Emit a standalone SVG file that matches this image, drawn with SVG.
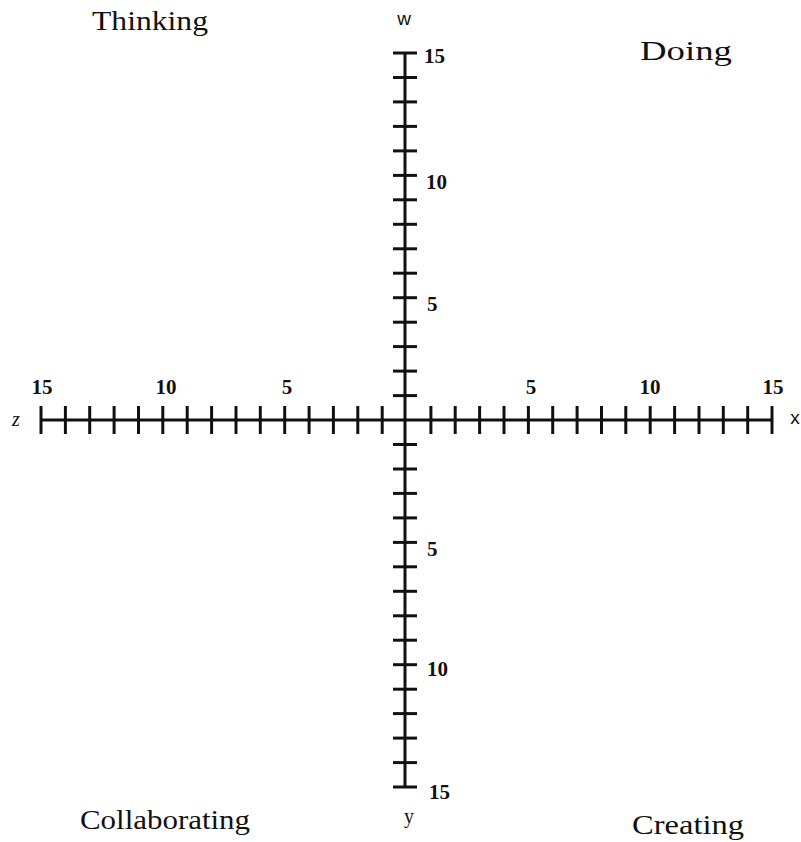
<svg xmlns="http://www.w3.org/2000/svg" width="801" height="842" viewBox="0 0 801 842">
<style>
.axis{stroke:#111;stroke-width:3;fill:none}
.tick{stroke:#111;stroke-width:3;fill:none}
.num{font-family:"Liberation Serif",serif;font-weight:bold;font-size:21px;fill:#111}
.quad{font-family:"Liberation Serif",serif;font-size:28px;fill:#111}
.ax{font-family:"Liberation Sans",sans-serif;font-size:19px;fill:#111}
.axs{font-family:"Liberation Serif",serif;font-size:20px;fill:#111}
</style>
<rect width="801" height="842" fill="#fff"/>
<g id="connectors">
<line class="axis" x1="405" y1="53" x2="405" y2="787"/>
<line class="axis" x1="41" y1="420" x2="772" y2="420"/>
<g id="vticks" class="tick">
<line x1="393" y1="53" x2="417" y2="53"/>
<line x1="393" y1="77.5" x2="417" y2="77.5"/>
<line x1="393" y1="101.9" x2="417" y2="101.9"/>
<line x1="393" y1="126.4" x2="417" y2="126.4"/>
<line x1="393" y1="150.9" x2="417" y2="150.9"/>
<line x1="393" y1="175.4" x2="417" y2="175.4"/>
<line x1="393" y1="199.8" x2="417" y2="199.8"/>
<line x1="393" y1="224.3" x2="417" y2="224.3"/>
<line x1="393" y1="248.8" x2="417" y2="248.8"/>
<line x1="393" y1="273.2" x2="417" y2="273.2"/>
<line x1="393" y1="297.7" x2="417" y2="297.7"/>
<line x1="393" y1="322.2" x2="417" y2="322.2"/>
<line x1="393" y1="346.6" x2="417" y2="346.6"/>
<line x1="393" y1="371.1" x2="417" y2="371.1"/>
<line x1="393" y1="395.6" x2="417" y2="395.6"/>
<line x1="393" y1="444.5" x2="417" y2="444.5"/>
<line x1="393" y1="469" x2="417" y2="469"/>
<line x1="393" y1="493.4" x2="417" y2="493.4"/>
<line x1="393" y1="517.9" x2="417" y2="517.9"/>
<line x1="393" y1="542.4" x2="417" y2="542.4"/>
<line x1="393" y1="566.8" x2="417" y2="566.8"/>
<line x1="393" y1="591.3" x2="417" y2="591.3"/>
<line x1="393" y1="615.8" x2="417" y2="615.8"/>
<line x1="393" y1="640.2" x2="417" y2="640.2"/>
<line x1="393" y1="664.7" x2="417" y2="664.7"/>
<line x1="393" y1="689.2" x2="417" y2="689.2"/>
<line x1="393" y1="713.6" x2="417" y2="713.6"/>
<line x1="393" y1="738.1" x2="417" y2="738.1"/>
<line x1="393" y1="762.6" x2="417" y2="762.6"/>
<line x1="393" y1="787" x2="417" y2="787"/>
</g>
<g id="hticks" class="tick">
<line x1="41" y1="406" x2="41" y2="434"/>
<line x1="65.4" y1="406" x2="65.4" y2="434"/>
<line x1="89.7" y1="406" x2="89.7" y2="434"/>
<line x1="114.1" y1="406" x2="114.1" y2="434"/>
<line x1="138.5" y1="406" x2="138.5" y2="434"/>
<line x1="162.8" y1="406" x2="162.8" y2="434"/>
<line x1="187.2" y1="406" x2="187.2" y2="434"/>
<line x1="211.6" y1="406" x2="211.6" y2="434"/>
<line x1="236" y1="406" x2="236" y2="434"/>
<line x1="260.3" y1="406" x2="260.3" y2="434"/>
<line x1="284.7" y1="406" x2="284.7" y2="434"/>
<line x1="309.1" y1="406" x2="309.1" y2="434"/>
<line x1="333.4" y1="406" x2="333.4" y2="434"/>
<line x1="357.8" y1="406" x2="357.8" y2="434"/>
<line x1="382.2" y1="406" x2="382.2" y2="434"/>
<line x1="430.9" y1="406" x2="430.9" y2="434"/>
<line x1="455.2" y1="406" x2="455.2" y2="434"/>
<line x1="479.6" y1="406" x2="479.6" y2="434"/>
<line x1="504" y1="406" x2="504" y2="434"/>
<line x1="528.4" y1="406" x2="528.4" y2="434"/>
<line x1="552.7" y1="406" x2="552.7" y2="434"/>
<line x1="577.1" y1="406" x2="577.1" y2="434"/>
<line x1="601.5" y1="406" x2="601.5" y2="434"/>
<line x1="625.8" y1="406" x2="625.8" y2="434"/>
<line x1="650.2" y1="406" x2="650.2" y2="434"/>
<line x1="674.6" y1="406" x2="674.6" y2="434"/>
<line x1="699" y1="406" x2="699" y2="434"/>
<line x1="723.3" y1="406" x2="723.3" y2="434"/>
<line x1="747.7" y1="406" x2="747.7" y2="434"/>
<line x1="772" y1="406" x2="772" y2="434"/>
</g>
</g>
<g id="tick-labels">
<text class="num" x="424" y="63">15</text>
<text class="num" x="426" y="189">10</text>
<text class="num" x="427" y="311">5</text>
<text class="num" x="427" y="556">5</text>
<text class="num" x="427" y="676">10</text>
<text class="num" x="429" y="799">15</text>
<text class="num" x="42" y="394" text-anchor="middle">15</text>
<text class="num" x="166" y="394" text-anchor="middle">10</text>
<text class="num" x="287" y="394" text-anchor="middle">5</text>
<text class="num" x="531" y="394" text-anchor="middle">5</text>
<text class="num" x="650" y="394" text-anchor="middle">10</text>
<text class="num" x="773" y="394" text-anchor="middle">15</text>
</g>
<g id="axis-labels">
<text class="ax" x="404" y="25" text-anchor="middle">w</text>
<text class="ax" x="795" y="424" text-anchor="middle">x</text>
<text class="axs" x="16" y="426" text-anchor="middle" font-style="italic">z</text>
<text class="axs" x="409" y="823" text-anchor="middle">y</text>
</g>
<g id="node-thinking"><text class="quad" x="92" y="30" textLength="116" lengthAdjust="spacingAndGlyphs">Thinking</text></g>
<g id="node-doing"><text class="quad" x="640" y="60" textLength="92" lengthAdjust="spacingAndGlyphs">Doing</text></g>
<g id="node-collaborating"><text class="quad" x="80" y="829" textLength="170" lengthAdjust="spacingAndGlyphs">Collaborating</text></g>
<g id="node-creating"><text class="quad" x="632" y="834" textLength="112" lengthAdjust="spacingAndGlyphs">Creating</text></g>
</svg>
